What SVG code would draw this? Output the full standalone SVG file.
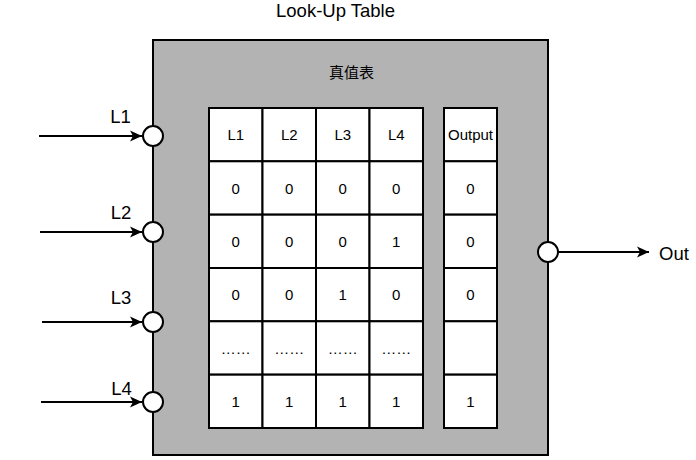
<svg xmlns="http://www.w3.org/2000/svg" width="696" height="460" viewBox="0 0 696 460">
<style>
text{font-family:"Liberation Sans",Arial,"Noto Sans CJK SC",sans-serif;fill:#000;text-anchor:middle;dominant-baseline:central}
.cell{fill:#fff;stroke:#000;stroke-width:2}
.c{font-size:15px}
.lbl{font-size:18.5px}
.port{fill:#fff;stroke:#000;stroke-width:2}
.wire{stroke:#000;stroke-width:2;fill:none}
</style>
<defs>
<marker id="ah" viewBox="0 0 12 12" refX="12" refY="6" markerWidth="12" markerHeight="12" markerUnits="userSpaceOnUse" orient="auto">
<path d="M0,0.5 L12,6 L0,11.5 L3,6 Z" fill="#000"/>
</marker>
</defs>
<text x="335.5" y="10" class="lbl">Look-Up Table</text>
<g id="lut">
<rect x="153" y="40" width="395" height="415" fill="#b3b3b3" stroke="#000" stroke-width="2"/>
<text x="351.5" y="72" style="font-size:15px">真值表</text>
</g>
<g id="truth-table">
<g id="row0">
<rect class="cell" x="209" y="108" width="53.5" height="53.3"/><text class="c" x="235.75" y="134.7">L1</text>
<rect class="cell" x="262.5" y="108" width="53.5" height="53.3"/><text class="c" x="289.25" y="134.7">L2</text>
<rect class="cell" x="316" y="108" width="53.5" height="53.3"/><text class="c" x="342.75" y="134.7">L3</text>
<rect class="cell" x="369.5" y="108" width="53.5" height="53.3"/><text class="c" x="396.25" y="134.7">L4</text>
</g>
<g id="row1">
<rect class="cell" x="209" y="161.3" width="53.5" height="53.3"/><text class="c" x="235.75" y="188">0</text>
<rect class="cell" x="262.5" y="161.3" width="53.5" height="53.3"/><text class="c" x="289.25" y="188">0</text>
<rect class="cell" x="316" y="161.3" width="53.5" height="53.3"/><text class="c" x="342.75" y="188">0</text>
<rect class="cell" x="369.5" y="161.3" width="53.5" height="53.3"/><text class="c" x="396.25" y="188">0</text>
</g>
<g id="row2">
<rect class="cell" x="209" y="214.7" width="53.5" height="53.3"/><text class="c" x="235.75" y="241.3">0</text>
<rect class="cell" x="262.5" y="214.7" width="53.5" height="53.3"/><text class="c" x="289.25" y="241.3">0</text>
<rect class="cell" x="316" y="214.7" width="53.5" height="53.3"/><text class="c" x="342.75" y="241.3">0</text>
<rect class="cell" x="369.5" y="214.7" width="53.5" height="53.3"/><text class="c" x="396.25" y="241.3">1</text>
</g>
<g id="row3">
<rect class="cell" x="209" y="268" width="53.5" height="53.3"/><text class="c" x="235.75" y="294.7">0</text>
<rect class="cell" x="262.5" y="268" width="53.5" height="53.3"/><text class="c" x="289.25" y="294.7">0</text>
<rect class="cell" x="316" y="268" width="53.5" height="53.3"/><text class="c" x="342.75" y="294.7">1</text>
<rect class="cell" x="369.5" y="268" width="53.5" height="53.3"/><text class="c" x="396.25" y="294.7">0</text>
</g>
<g id="row4">
<rect class="cell" x="209" y="321.3" width="53.5" height="53.3"/><text class="c" x="235.75" y="348">……</text>
<rect class="cell" x="262.5" y="321.3" width="53.5" height="53.3"/><text class="c" x="289.25" y="348">……</text>
<rect class="cell" x="316" y="321.3" width="53.5" height="53.3"/><text class="c" x="342.75" y="348">……</text>
<rect class="cell" x="369.5" y="321.3" width="53.5" height="53.3"/><text class="c" x="396.25" y="348">……</text>
</g>
<g id="row5">
<rect class="cell" x="209" y="374.7" width="53.5" height="53.3"/><text class="c" x="235.75" y="401.3">1</text>
<rect class="cell" x="262.5" y="374.7" width="53.5" height="53.3"/><text class="c" x="289.25" y="401.3">1</text>
<rect class="cell" x="316" y="374.7" width="53.5" height="53.3"/><text class="c" x="342.75" y="401.3">1</text>
<rect class="cell" x="369.5" y="374.7" width="53.5" height="53.3"/><text class="c" x="396.25" y="401.3">1</text>
</g>
</g>
<g id="output-column">
<rect class="cell" x="444" y="108" width="53" height="53.3"/><text class="c" x="470.5" y="134.7">Output</text>
<rect class="cell" x="444" y="161.3" width="53" height="53.3"/><text class="c" x="470.5" y="188">0</text>
<rect class="cell" x="444" y="214.7" width="53" height="53.3"/><text class="c" x="470.5" y="241.3">0</text>
<rect class="cell" x="444" y="268" width="53" height="53.3"/><text class="c" x="470.5" y="294.7">0</text>
<rect class="cell" x="444" y="321.3" width="53" height="53.3"/>
<rect class="cell" x="444" y="374.7" width="53" height="53.3"/><text class="c" x="470.5" y="401.3">1</text>
</g>
<g id="connectors">
<line class="wire" x1="39" y1="136" x2="142" y2="136" marker-end="url(#ah)"/>
<line class="wire" x1="40" y1="232" x2="142" y2="232" marker-end="url(#ah)"/>
<line class="wire" x1="42" y1="322" x2="142" y2="322" marker-end="url(#ah)"/>
<line class="wire" x1="41" y1="402" x2="142" y2="402" marker-end="url(#ah)"/>
<line class="wire" x1="558" y1="252" x2="649" y2="252" marker-end="url(#ah)"/>
</g>
<g id="port-L1"><circle class="port" cx="153" cy="136" r="10"/><text class="lbl" x="120.5" y="116">L1</text></g>
<g id="port-L2"><circle class="port" cx="153" cy="232" r="10"/><text class="lbl" x="121" y="212">L2</text></g>
<g id="port-L3"><circle class="port" cx="153" cy="322" r="10"/><text class="lbl" x="121" y="297">L3</text></g>
<g id="port-L4"><circle class="port" cx="153" cy="402" r="10"/><text class="lbl" x="121.5" y="388">L4</text></g>
<g id="port-out"><circle class="port" cx="548" cy="252" r="10"/><text class="lbl" x="659" y="253" style="text-anchor:start">Out</text></g>
</svg>
